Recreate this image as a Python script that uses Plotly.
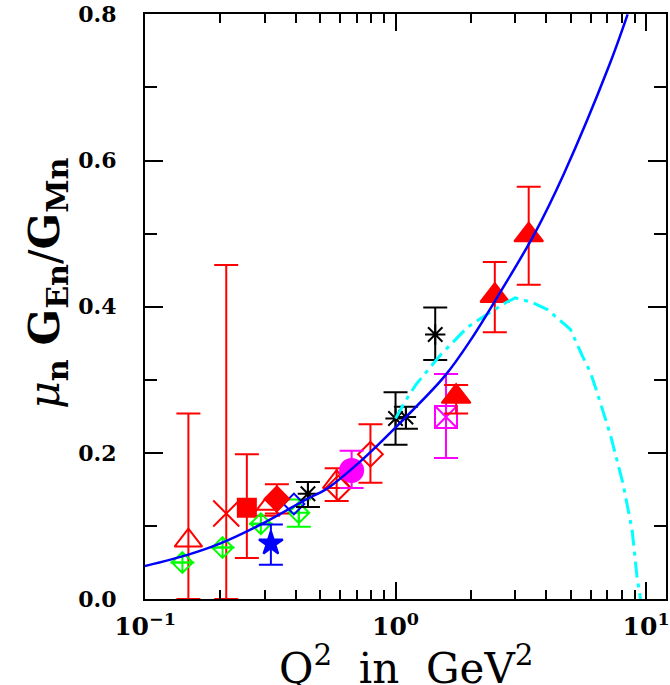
import plotly.graph_objects as go

# theory curves
blue_q2 = [0.1, 0.15, 0.2, 0.29, 0.45, 0.527, 0.711, 1.1, 1.58, 2.0, 2.61, 3.59, 4.7, 7.14, 8.44]
blue_r = [0.045, 0.061, 0.076, 0.102, 0.138, 0.150, 0.186, 0.249, 0.306, 0.355, 0.419, 0.500, 0.582, 0.731, 0.800]

cyan_q2 = [1.0, 1.10, 1.21, 1.52, 1.69, 1.94, 2.38, 2.74, 3.0, 3.5, 4.04, 4.99, 5.56, 6.0, 6.37, 7.2, 8.1, 8.8, 9.2, 9.5]
cyan_r = [0.247, 0.272, 0.294, 0.335, 0.351, 0.372, 0.392, 0.405, 0.412, 0.406, 0.396, 0.369, 0.333, 0.310, 0.283, 0.225, 0.157, 0.094, 0.030, 0.0]

# axis ticks
x_tickvals = [0.1, 1, 10]
x_ticktext = ["10<sup>−1</sup>", "10<sup>0</sup>", "10<sup>1</sup>"]
y_tickvals = [0.0, 0.2, 0.4, 0.6, 0.8]
y_ticktext = ["0.0", "0.2", "0.4", "0.6", "0.8"]

# data sets: x, y, upper end of error bar, lower end of error bar (None = no bar)
tri_open_x = [0.149, 0.304, 0.582]
tri_open_y = [0.080, 0.122, 0.160]
tri_open_hi = [0.254, None, 0.179]
tri_open_lo = [0.0, None, 0.134]

dia_open_x = [0.590, 0.794]
dia_open_y = [0.152, 0.198]
dia_open_hi = [None, 0.239]
dia_open_lo = [None, 0.159]

sq_x = [0.255]
sq_y = [0.125]
sq_hi = [0.198]
sq_lo = [0.056]

dia_fill_x = [0.336]
dia_fill_y = [0.137]
dia_fill_hi = [0.157]
dia_fill_lo = [0.117]

cross_x = [0.211]
cross_y = [0.117]
cross_hi = [0.457]
cross_lo = [0.0]

tri_fill_x = [1.745, 2.49, 3.40]
tri_fill_y = [0.277, 0.415, 0.498]
tri_fill_hi = [0.293, 0.461, 0.564]
tri_fill_lo = [0.254, 0.365, 0.430]

green_x = [0.141, 0.204, 0.290, 0.411]
green_y = [0.050, 0.0705, 0.103, 0.118]
green_hi = [None, None, None, 0.136]
green_lo = [None, None, None, 0.099]

star_x = [0.318]
star_y = [0.076]
star_hi = [0.102]
star_lo = [0.047]

bdia_x = [0.393]
bdia_y = [0.130]

ast_x = [0.447, 1.0, 1.10, 1.44]
ast_y = [0.144, 0.247, 0.249, 0.362]
ast_hi = [0.160, 0.283, 0.263, 0.399]
ast_lo = [0.126, 0.211, 0.233, 0.327]

circ_x = [0.668]
circ_y = [0.176]
circ_hi = [0.203]
circ_lo = [0.152]

sqx_x = [1.59]
sqx_y = [0.249]
sqx_hi = [0.308]
sqx_lo = [0.193]

RED = "#ff0000"
GREEN = "#00ff00"
BLUE = "#0000ff"
MAG = "#ff00ff"


def err(y, hi, lo, color):
    if hi is None:
        return None
    plus = [None if h is None else h - v for v, h in zip(y, hi)]
    minus = [None if l is None else v - l for v, l in zip(y, lo)]
    return dict(type="data", symmetric=False, array=plus, arrayminus=minus,
                color=color, thickness=2, width=12)


def pts(x, y, symbol, color, size, hi=None, lo=None, lw=2):
    marker = dict(symbol=symbol, size=size, color=color,
                  line=dict(color=color, width=lw))
    return go.Scatter(x=x, y=y, mode="markers", marker=marker,
                      error_y=err(y, hi, lo, color), cliponaxis=False)


fig = go.Figure()
fig.add_trace(pts(tri_open_x, tri_open_y, "triangle-up-open", RED, 24, tri_open_hi, tri_open_lo))
fig.add_trace(pts(cross_x, cross_y, "x-thin-open", RED, 26, cross_hi, cross_lo))
fig.add_trace(pts(sq_x, sq_y, "square", RED, 18, sq_hi, sq_lo))
fig.add_trace(pts(green_x, green_y, "diamond-cross-open", GREEN, 16, green_hi, green_lo))
fig.add_trace(pts(star_x, star_y, "star", BLUE, 18, star_hi, star_lo))
fig.add_trace(pts(bdia_x, bdia_y, "diamond-open", BLUE, 16))
fig.add_trace(pts(dia_fill_x, dia_fill_y, "diamond", RED, 19, dia_fill_hi, dia_fill_lo))
fig.add_trace(pts(dia_open_x, dia_open_y, "diamond-open", RED, 19, dia_open_hi, dia_open_lo))
fig.add_trace(pts(ast_x, ast_y, "asterisk-open", "black", 17, ast_hi, ast_lo))
fig.add_trace(pts(circ_x, circ_y, "circle", MAG, 23, circ_hi, circ_lo))
fig.add_trace(pts(sqx_x, sqx_y, "square-x-open", MAG, 22, sqx_hi, sqx_lo))
fig.add_trace(pts(tri_fill_x, tri_fill_y, "triangle-up", RED, 25, tri_fill_hi, tri_fill_lo))

fig.add_trace(go.Scatter(x=cyan_q2, y=cyan_r, mode="lines",
                         line=dict(color="#00ffff", width=3, dash="16px,6px,4px,6px")))
fig.add_trace(go.Scatter(x=blue_q2, y=blue_r, mode="lines",
                         line=dict(color=BLUE, width=2.5, shape="spline")))

axis_common = dict(showgrid=False, zeroline=False, showline=True, linecolor="black",
                   linewidth=2, mirror="ticks", ticks="inside", tickwidth=2,
                   tickcolor="black", ticklabeloverflow="allow")

fig.update_xaxes(type="log", range=[-1, 1.0795], tickmode="array",
                 tickvals=x_tickvals, ticktext=x_ticktext,
                 ticklen=17, ticklabelstandoff=4,
                 minor=dict(ticks="inside", ticklen=9, tickwidth=2, tickcolor="black",
                            dtick="D1", showgrid=False),
                 tickfont=dict(family="DejaVu Serif", size=25, color="black", weight="bold"),
                 **axis_common)
fig.update_yaxes(range=[0, 0.8005], tickmode="array", tickvals=y_tickvals, ticktext=y_ticktext,
                 ticklen=18, ticklabelstandoff=22,
                 minor=dict(ticks="inside", ticklen=12, tickwidth=2, tickcolor="black",
                            dtick=0.1, showgrid=False),
                 tickfont=dict(family="DejaVu Serif", size=22, color="black", weight="bold"),
                 **axis_common)

fig.add_annotation(text="Q<sup>2</sup>  in  GeV<sup>2</sup>", xref="paper", yref="paper",
                   x=0.5, y=-0.113, xanchor="center", yanchor="middle", showarrow=False,
                   font=dict(family="DejaVu Serif", size=42, color="black"))
fig.add_annotation(text="<i>μ</i><sub><b>n</b></sub> <b>G</b><sub><b>En</b></sub>/<b>G</b><sub><b>Mn</b></sub>",
                   xref="paper", yref="paper", x=0, y=0.54, xshift=-98,
                   xanchor="center", yanchor="middle", textangle=-90, showarrow=False,
                   font=dict(family="DejaVu Serif", size=43, color="black"))

fig.update_layout(width=670, height=685, margin=dict(l=145, r=1, t=9, b=86),
                  plot_bgcolor="white", paper_bgcolor="white", showlegend=False)

fig.write_html("out.html", config={"displayModeBar": False},
               post_script="document.body.style.margin='0';document.body.style.overflow='hidden';")
